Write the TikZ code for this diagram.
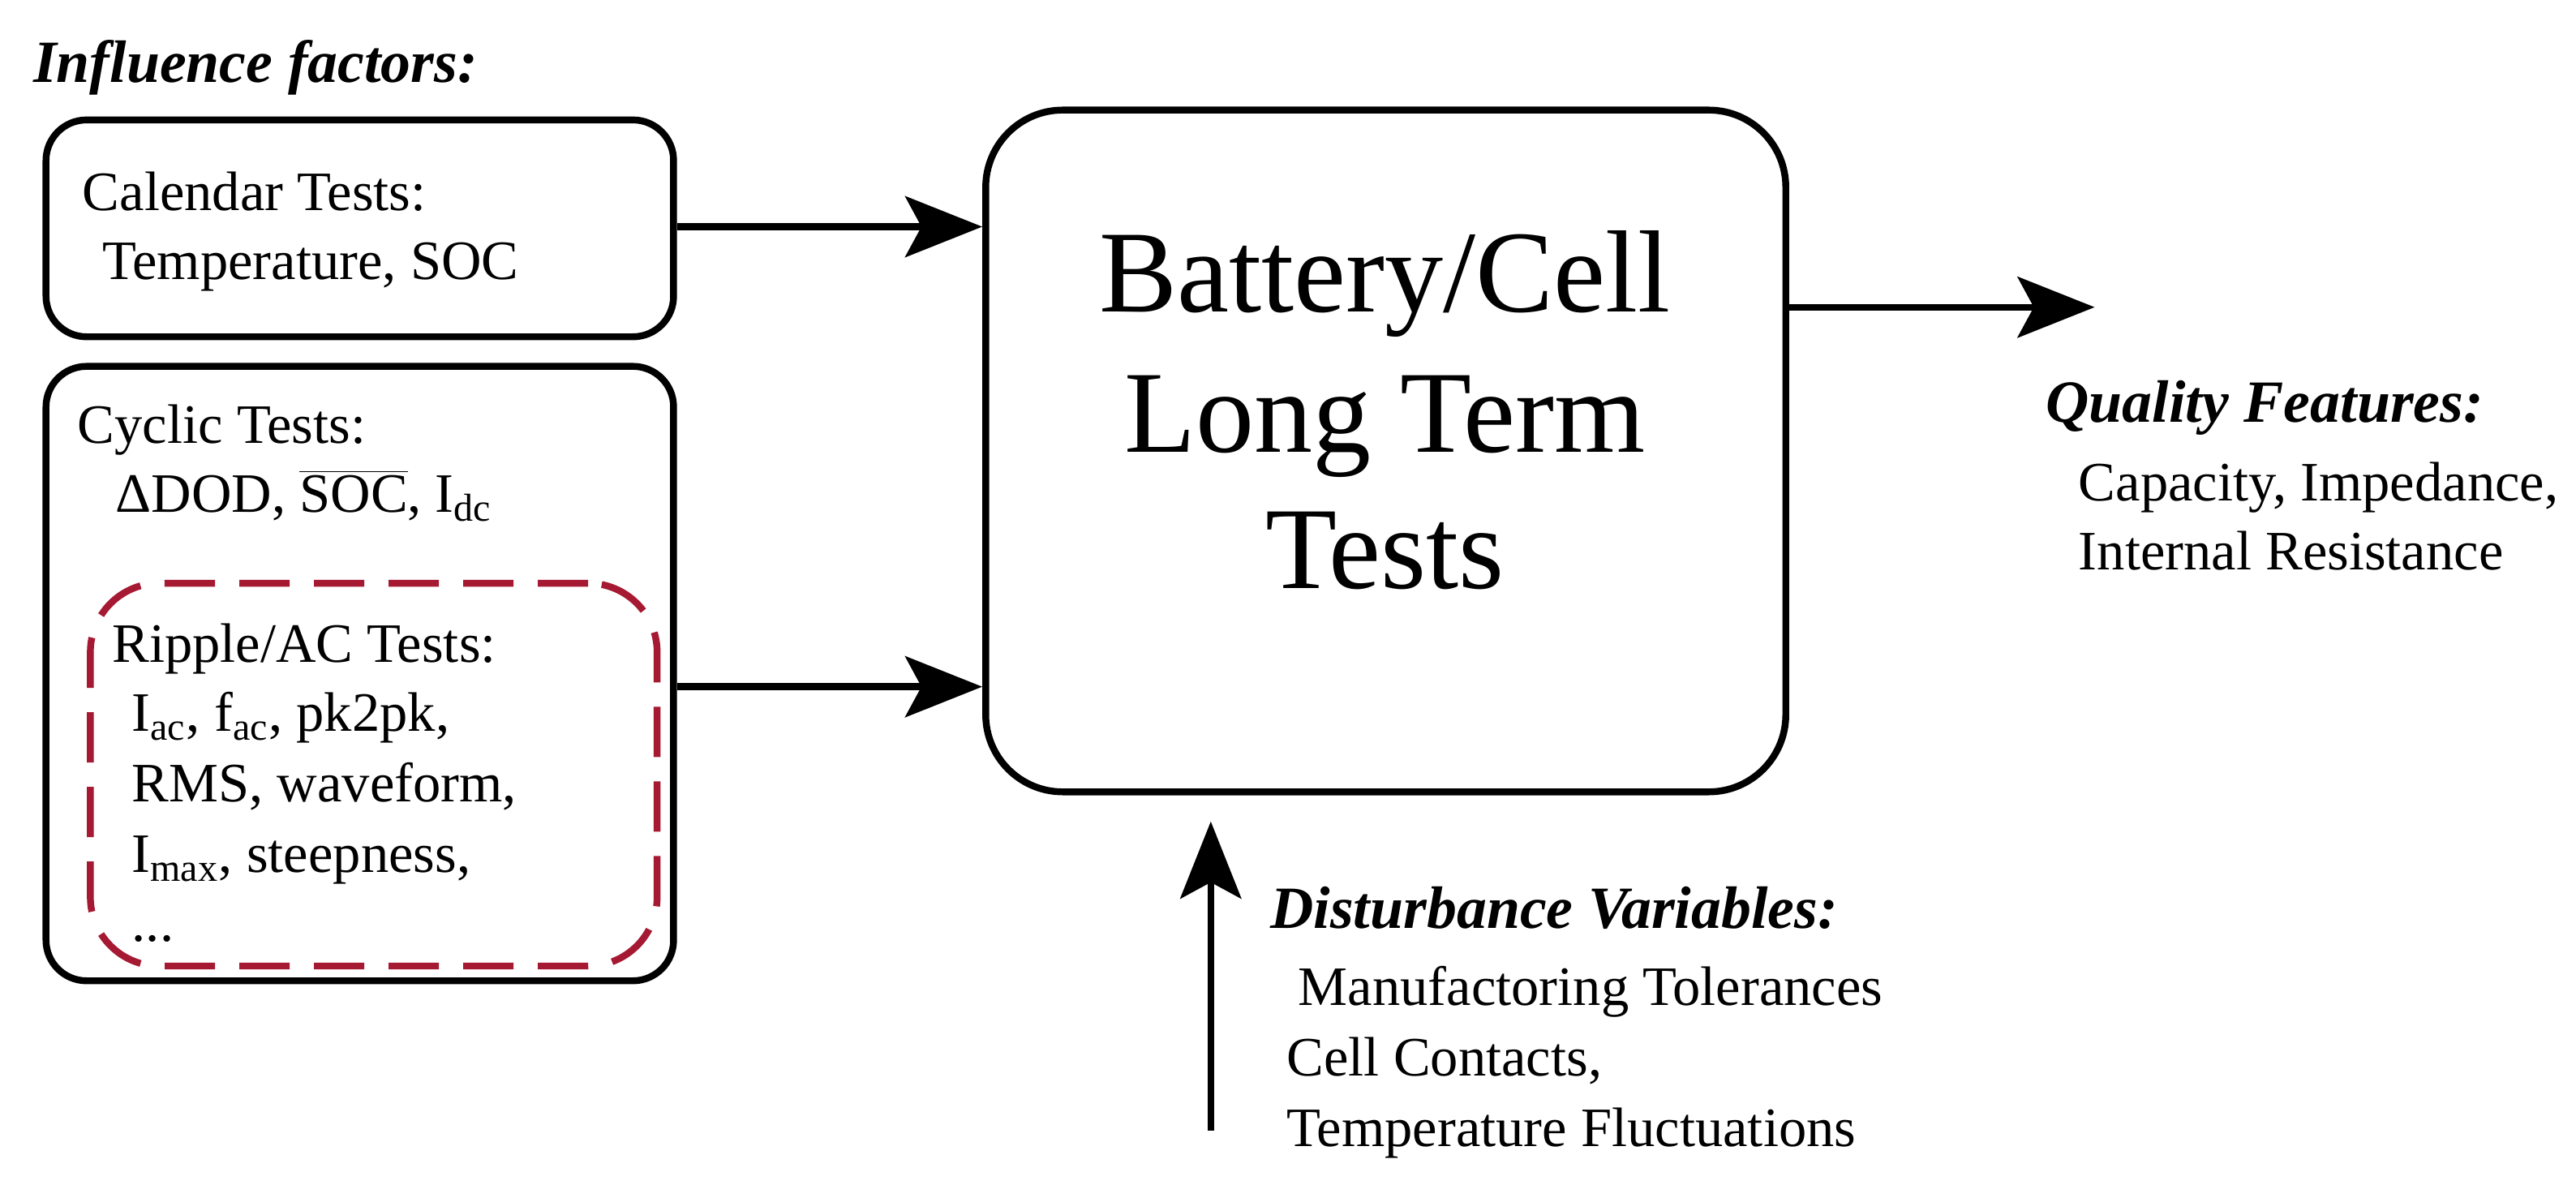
\documentclass[tikz,border=0pt]{standalone}
\usepackage{fontspec}
\setmainfont{Liberation Serif}
\usetikzlibrary{arrows.meta}
\definecolor{dred}{RGB}{165,25,50}
\begin{document}
\begin{tikzpicture}[x=0.02025cm,y=-0.02025cm,
  box/.style={draw,line width=2.4pt,rounded corners=0.5cm},
  arr/.style={line width=2.4pt,-{Stealth[length=0.95cm,width=0.75cm,inset=0.2cm]}},
  txt/.style={anchor=base west,inner sep=0,font=\fontsize{19.5}{23}\selectfont},
  hd/.style={anchor=base west,inner sep=0,font=\fontsize{21}{24}\selectfont\bfseries\itshape}]
\useasboundingbox (0,0) rectangle (1568,721);
\node[hd] (inf) at (20,50) {Influence factors:};
\node[box,minimum width=382*0.02025cm,minimum height=132*0.02025cm] (cal) at (219,139) {};
\node[box,minimum width=382*0.02025cm,minimum height=374*0.02025cm] (cyc) at (219,410) {};
\node[draw=dred,line width=2.4pt,dash pattern=on 0.62cm off 0.3cm,rounded corners=0.85cm,minimum width=345*0.02025cm,minimum height=233*0.02025cm] (rip) at (227.5,471.5) {};
\node[box,rounded corners=0.95cm,minimum width=487*0.02025cm,minimum height=415*0.02025cm] (bat) at (843.5,274.5) {};
\node[txt] at (50,128) {Calendar Tests:};
\node[txt] at (62,170) {Temperature, SOC};
\node[txt] at (47,270) {Cyclic Tests:};
\node[txt] at (70,312) {ΔDOD, $\overline{\mbox{SOC}}$, I\textsubscript{dc}};
\node[txt] at (68,403) {Ripple/AC Tests:};
\node[txt] at (80,445) {I\textsubscript{ac}, f\textsubscript{ac}, pk2pk,};
\node[txt] at (80,488) {RMS, waveform,};
\node[txt] at (80,531) {I\textsubscript{max}, steepness,};
\node[txt] at (80,573) {...};
\node[font=\fontsize{41}{42}\selectfont,inner sep=0,anchor=base] (bt) at (843,190) {Battery/Cell};
\node[font=\fontsize{41}{42}\selectfont,inner sep=0,anchor=base] at (843,275) {Long Term};
\node[font=\fontsize{41}{42}\selectfont,inner sep=0,anchor=base] at (843,358) {Tests};
\node[hd] at (1245,257) {Quality Features:};
\node[txt] at (1265,305) {Capacity, Impedance,};
\node[txt] at (1265,347) {Internal Resistance};
\node[hd] at (773,565) {Disturbance Variables:};
\node[txt] at (790,612) {Manufactoring Tolerances};
\node[txt] at (783,655) {Cell Contacts,};
\node[txt] at (783,698) {Temperature Fluctuations};
\coordinate (o1) at (1275,187);
\coordinate (d0) at (737,688);
\coordinate (d1) at (737,500);
\draw[arr] (cal.east |- 0,138) -- (bat.west |- 0,138);
\draw[arr] (cyc.east |- 0,418) -- (bat.west |- 0,418);
\draw[arr] (bat.east |- 0,187) -- (o1);
\draw[arr] (d0) -- (d1);
\end{tikzpicture}
\end{document}
